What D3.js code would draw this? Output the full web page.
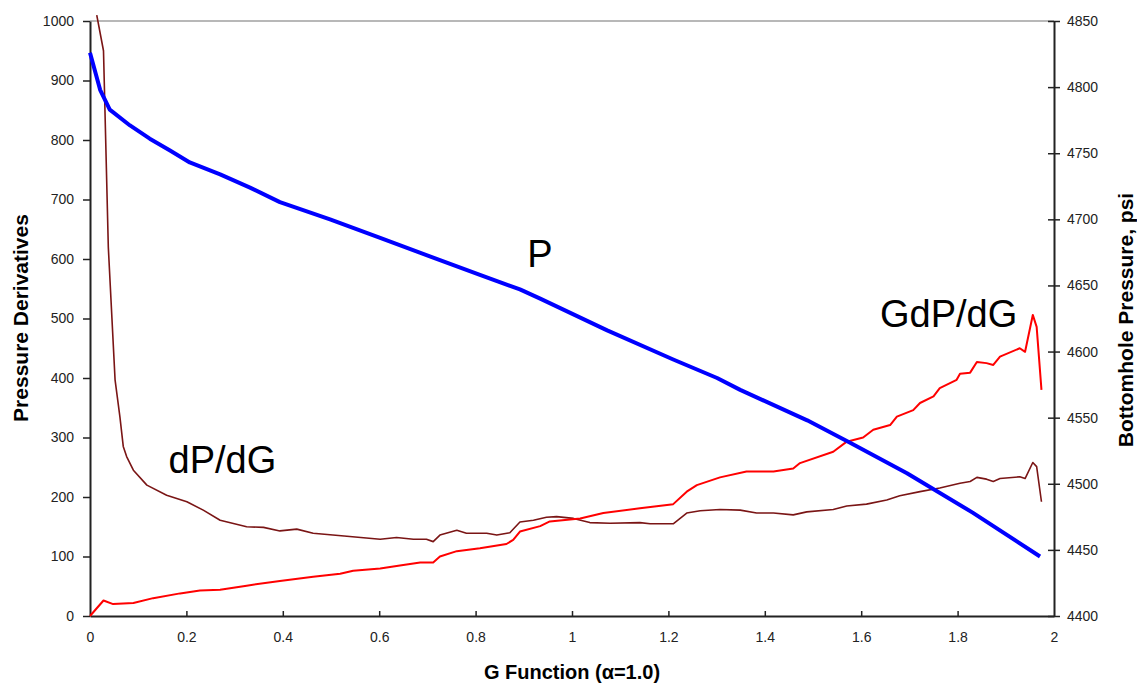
<!DOCTYPE html>
<html>
<head>
<meta charset="utf-8">
<script src="https://cdn.jsdelivr.net/npm/d3@7"></script>
<style>
body{margin:0;background:#fff;}
text{font-family:"Liberation Sans",Arial,sans-serif;}
</style>
</head>
<body>
<div id="chart"></div>
<script>
/* G function plot: P, dP/dG and GdP/dG */

// bottomhole pressure (right axis, psi)
var pG   = [0,0.021,0.041,0.083,0.124,0.166,0.207,0.270,0.332,0.394,0.498,0.602,0.705,0.809,0.892,0.934,1.073,1.210,1.301,1.349,1.488,1.577,1.695,1.832,1.971];
var pPsi = [4826,4798,4783,4771,4761,4752,4743,4734,4724,4713,4700,4686,4672,4658,4647,4640,4616,4594,4580,4571,4548,4531,4508,4478,4445];

// dP/dG (left axis)
var dG   = [0.014,0.028,0.038,0.052,0.062,0.069,0.076,0.090,0.118,0.159,0.201,0.235,0.270,0.325,0.360,0.394,0.429,0.463,0.533,0.602,0.636,0.671,0.698,0.712,0.726,0.761,0.781,0.823,0.844,0.871,0.892,0.920,0.947,0.968,1.003,1.037,1.079,1.141,1.162,1.210,1.238,1.266,1.307,1.349,1.383,1.418,1.459,1.487,1.542,1.570,1.611,1.653,1.680,1.722,1.763,1.805,1.826,1.840,1.860,1.874,1.888,1.929,1.940,1.956,1.964,1.974];
var dVal = [1010,950,620,397,335,285,268,245,220,203,192,178,161,150,149,143,146,139,134,129,132,129,129,125,136,144,139,139,136,140,158,161,166,167,164,157,156,157,155,155,173,177,179,178,173,173,170,175,179,185,188,195,202,209,215,223,226,233,230,226,231,234,231,258,251,192];

// GdP/dG (left axis)
var gdG   = [0,0.028,0.048,0.090,0.131,0.187,0.228,0.270,0.325,0.394,0.463,0.519,0.546,0.602,0.643,0.685,0.712,0.726,0.761,0.809,0.864,0.878,0.892,0.934,0.954,1.017,1.065,1.141,1.210,1.238,1.259,1.307,1.362,1.418,1.459,1.473,1.542,1.570,1.604,1.625,1.660,1.674,1.708,1.722,1.750,1.763,1.798,1.805,1.826,1.840,1.860,1.874,1.888,1.929,1.940,1.956,1.964,1.974];
var gdVal = [0,26,20,22,30,38,43,44,51,59,66,71,76,80,85,90,90,100,109,114,121,128,142,151,159,164,173,181,188,209,220,233,243,243,248,257,276,293,300,313,321,335,346,358,369,383,397,407,409,427,425,422,436,450,444,506,486,380];

var xTicks = [0,0.2,0.4,0.6,0.8,1,1.2,1.4,1.6,1.8,2];
var leftTicks = [0,100,200,300,400,500,600,700,800,900,1000];
var rightTicks = [4400,4450,4500,4550,4600,4650,4700,4750,4800,4850];

var W = 1137, H = 684;
var margin = {top:21, right:83, bottom:68, left:90},
w = W - margin.left - margin.right,
h = H - margin.top - margin.bottom;

var svg = d3.select("#chart")
.append("svg")
.attr("width",W)
.attr("height",H);

var g = svg.append("g")
.attr("transform",`translate(${margin.left},${margin.top})`);

var xScale = d3.scaleLinear().domain([0,2]).range([0,w]);
var yLeft = d3.scaleLinear().domain([0,1000]).range([h,0]);
var yRight = d3.scaleLinear().domain([4400,4850]).range([h,0]);

// top border
g.append("line")
.attr("x1",0).attr("x2",w).attr("y1",0).attr("y2",0)
.attr("stroke","#a0a0a0").attr("stroke-width",1.5);

// x axis, ticks pointing inward
var xAxis = g.append("g")
.attr("transform","translate(0,"+h+")")
.call(d3.axisBottom(xScale).tickValues(xTicks).tickSize(-5).tickPadding(16).tickFormat(d3.format("~g")).tickSizeOuter(0));
xAxis.select(".domain").attr("stroke","#222").attr("stroke-width",2);
xAxis.selectAll(".tick line").attr("stroke","#222").attr("stroke-width",1.5);
xAxis.selectAll(".tick").filter(function(d){return d===0||d===2;}).select("line").remove();
xAxis.selectAll("text").style("font-size","14px").attr("fill","#222");

var leftAxis = g.append("g")
.call(d3.axisLeft(yLeft).tickValues(leftTicks).tickSize(7).tickPadding(9).tickFormat(d3.format("d")).tickSizeOuter(0));
leftAxis.select(".domain").attr("stroke","#222").attr("stroke-width",2);
leftAxis.selectAll(".tick line").attr("stroke","#222").attr("stroke-width",1.5);
leftAxis.selectAll("text").style("font-size","14px").attr("fill","#222");

var rightAxis = g.append("g")
.attr("transform","translate("+w+",0)")
.call(d3.axisRight(yRight).tickValues(rightTicks).tickSize(6).tickPadding(7).tickFormat(d3.format("d")).tickSizeOuter(0));
rightAxis.select(".domain").attr("stroke","#222").attr("stroke-width",2);
rightAxis.selectAll(".tick line").attr("stroke","#222").attr("stroke-width",1.5).attr("x1",-6);
rightAxis.selectAll("text").style("font-size","14px").attr("fill","#222");

// lines
var lineL = d3.line().x(function(d){return xScale(d[0]);}).y(function(d){return yLeft(d[1]);});
var lineR = d3.line().x(function(d){return xScale(d[0]);}).y(function(d){return yRight(d[1]);});

g.append("path")
.datum(d3.zip(dG,dVal))
.attr("fill","none").attr("stroke","#7a1515").attr("stroke-width",1.6).attr("stroke-linejoin","round")
.attr("d",lineL);

g.append("path")
.datum(d3.zip(gdG,gdVal))
.attr("fill","none").attr("stroke","#ff0000").attr("stroke-width",2).attr("stroke-linejoin","round")
.attr("d",lineL);

g.append("path")
.datum(d3.zip(pG,pPsi))
.attr("fill","none").attr("stroke","#0000ff").attr("stroke-width",4).attr("stroke-linejoin","round")
.attr("d",lineR);

// curve labels
g.append("text").text("P").attr("x",xScale(0.907)).attr("y",246).style("font-size","38px");
g.append("text").text("dP/dG").attr("x",xScale(0.163)).attr("y",452).style("font-size","38px");
g.append("text").text("GdP/dG").attr("x",xScale(1.639)).attr("y",306).style("font-size","38px");

// axis titles
svg.append("text")
.text("G Function (\u03b1=1.0)")
.attr("x",572).attr("y",679)
.attr("text-anchor","middle")
.style("font-size","20px").style("font-weight","bold");

svg.append("text")
.text("Pressure Derivatives")
.attr("transform","translate(28,318)rotate(-90)")
.attr("text-anchor","middle")
.style("font-size","21px").style("font-weight","bold");

svg.append("text")
.text("Bottomhole Pressure, psi")
.attr("transform","translate(1133,320)rotate(-90)")
.attr("text-anchor","middle")
.style("font-size","21px").style("font-weight","bold");
</script>
</body>
</html>
